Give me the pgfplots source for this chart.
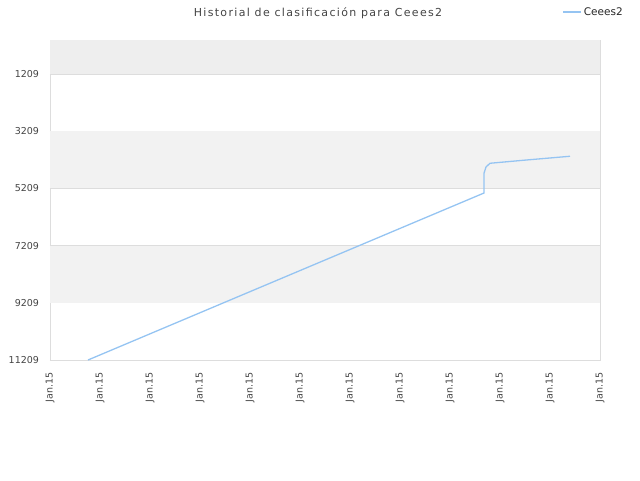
\documentclass[border=0pt]{standalone}
\usepackage{pgfplots}
\pgfplotsset{compat=1.18}
\usepackage{fontspec}
\setmainfont{DejaVu Sans}
\newfontfamily\titlefont[LetterSpace=12]{DejaVu Sans}
\definecolor{serie}{HTML}{95C4F2}
\definecolor{bandA}{HTML}{EEEEEE}
\definecolor{bandB}{HTML}{F2F2F2}
\definecolor{rejilla}{HTML}{DDDDDD}
\definecolor{texto}{HTML}{444444}
\pgfplotsset{leyendacorta/.style={legend image code/.code={\draw[##1] (0pt,0pt) -- (11pt,0pt); \path (0pt,0pt) -- (18pt,0pt);}}}

\begin{document}
\begin{tikzpicture}
\path[use as bounding box] (0pt,0pt) rectangle (640pt,480pt);
\node[text=texto, font=\titlefont\fontsize{11}{13}\selectfont] at (318pt,467pt) {Historial de clasificación para Ceees2};
\begin{axis}[
    at={(50pt,120pt)}, anchor=south west,
    width=550pt, height=320pt, scale only axis,
    xmin=0, xmax=11, ymin=20, ymax=11209,
    y dir=reverse,
    scaled y ticks=false,
    xtick={0,...,11},
    xticklabels={Jan.15,Jan.15,Jan.15,Jan.15,Jan.15,Jan.15,Jan.15,Jan.15,Jan.15,Jan.15,Jan.15,Jan.15},
    xticklabel style={yshift=-9pt, rotate=90, anchor=east, font=\fontsize{9.5}{11}\selectfont, text=texto},
    ytick={1209,3209,5209,7209,9209,11209},
    yticklabel style={xshift=-7.5pt, font=\fontsize{9.5}{11}\selectfont, text=texto},
    /pgf/number format/assume math mode=true,
    /pgf/number format/set thousands separator={},
    ymajorgrids, grid style={rejilla, line width=0.8pt},
    axis line style={rejilla, line width=0.8pt},
    major tick length=0pt,
    legend style={at={(0.932,1.0875)}, anchor=west, draw=none, fill=none,
        font=\fontsize{10.5}{12}\selectfont, text=black!85, inner sep=0pt, outer sep=0pt},
    legend cell align=left,
]
\fill[bandA] (axis cs:0,20) rectangle (axis cs:11,1209);
\fill[bandB] (axis cs:0,3209) rectangle (axis cs:11,5209);
\fill[bandB] (axis cs:0,7209) rectangle (axis cs:11,9209);
\addplot[serie, line width=1.3pt, leyendacorta] coordinates {
(0.76,11209) (2.0,10294) (4.0,8819) (6.0,7345) (8.68,5370)
(8.68,4680) (8.72,4460) (8.8,4330) (9.5,4220) (10.4,4085)
};
\addlegendentry{Ceees2}
\end{axis}
\end{tikzpicture}
\end{document}
